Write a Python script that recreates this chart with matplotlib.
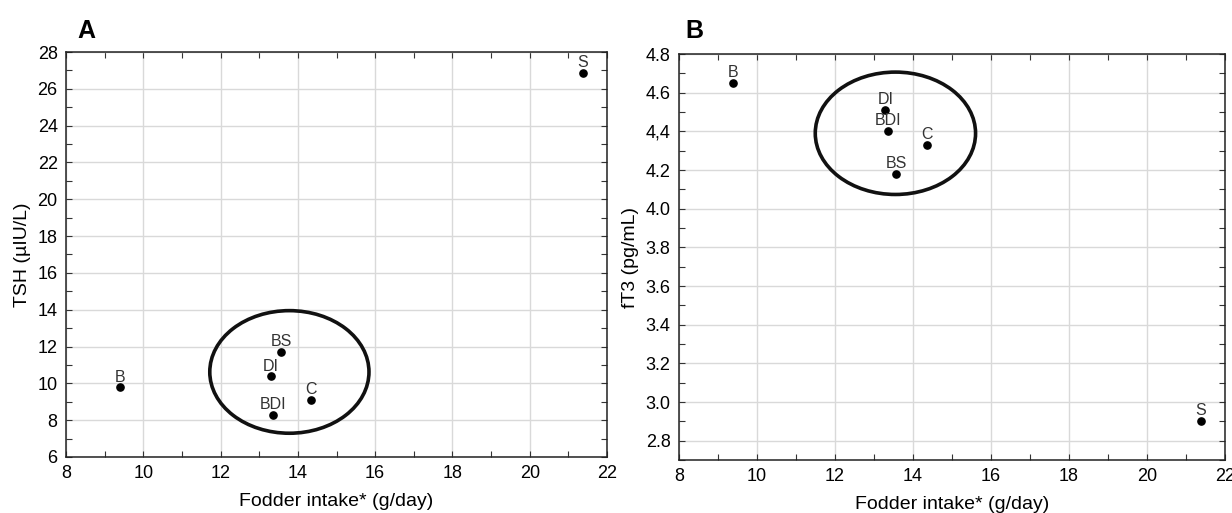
import matplotlib.pyplot as plt
from matplotlib.patches import Ellipse
from matplotlib.ticker import MultipleLocator

plt.rcParams['font.family'] = ['Liberation Sans', 'DejaVu Sans']

# Data
groups = ['B', 'DI', 'BS', 'BDI', 'C', 'S']
fodder_a = [9.40, 13.30, 13.57, 13.36, 14.35, 21.38]
tsh = [9.78, 10.38, 11.71, 8.30, 9.11, 26.86]
fodder_b = [9.38, 13.29, 13.57, 13.36, 14.35, 21.38]
ft3 = [4.65, 4.51, 4.18, 4.40, 4.33, 2.90]

xticks = [8, 10, 12, 14, 16, 18, 20, 22]
tsh_ticks = list(range(6, 29, 2))
ft3_ticks = [2.8, 3.0, 3.2, 3.4, 3.6, 3.8, 4.0, 4.2, 4.4, 4.6, 4.8]
ft3_labels = ['2.8', '3.0', '3.2', '3.4', '3.6', '3.8', '4.0', '4.2', '4,4', '4.6', '4.8']


def style_axes(ax, minor_y):
    ax.set_xlim(8, 22)
    ax.set_xticks(xticks)
    ax.xaxis.set_minor_locator(MultipleLocator(1))
    ax.yaxis.set_minor_locator(MultipleLocator(minor_y))
    ax.grid(True, which='major', color='#d9d9d9', linewidth=1)
    ax.set_axisbelow(True)
    ax.tick_params(which='both', direction='in', top=True, right=True,
                   length=4, width=0.8, labelsize=13, color='#333333')
    ax.tick_params(which='major', pad=6)
    for s in ax.spines.values():
        s.set_linewidth(1.1)
        s.set_color('#222222')
    ax.set_xlabel('Fodder intake* (g/day)', fontsize=14, labelpad=8)


def add_points(ax, xs, ys, dy):
    ax.plot(xs, ys, 'o', color='black', markersize=5.2, zorder=5)
    for g, x, y in zip(groups, xs, ys):
        ax.text(x, y + dy, g, ha='center', va='bottom', fontsize=11.5,
                color='#333333', zorder=6)


fig = plt.figure(figsize=(12.32, 5.13), dpi=100)

# Panel A
ax1 = fig.add_axes([0.0536, 0.1092, 0.4391, 0.7894])
ax1.set_ylim(6, 28)
ax1.set_yticks(tsh_ticks)
style_axes(ax1, 1)
add_points(ax1, fodder_a, tsh, 0.15)
ax1.add_patch(Ellipse((13.78, 10.62), 4.12, 6.66, fill=False,
                      edgecolor='#111111', linewidth=2.6, zorder=4))
ax1.set_ylabel('TSH (µIU/L)', fontsize=14, labelpad=5)
fig.text(0.063, 0.925, 'A', fontsize=18, fontweight='bold')

# Panel B
ax2 = fig.add_axes([0.5511, 0.1033, 0.4432, 0.7914])
ax2.set_ylim(2.7, 4.8)
ax2.set_yticks(ft3_ticks)
ax2.set_yticklabels(ft3_labels)
style_axes(ax2, 0.1)
add_points(ax2, fodder_b, ft3, 0.015)
ax2.add_patch(Ellipse((13.55, 4.39), 4.11, 0.633, fill=False,
                      edgecolor='#111111', linewidth=2.6, zorder=4))
ax2.set_ylabel('fT3 (pg/mL)', fontsize=14, labelpad=5)
fig.text(0.556, 0.925, 'B', fontsize=18, fontweight='bold')

plt.savefig('out.png', dpi=100)
